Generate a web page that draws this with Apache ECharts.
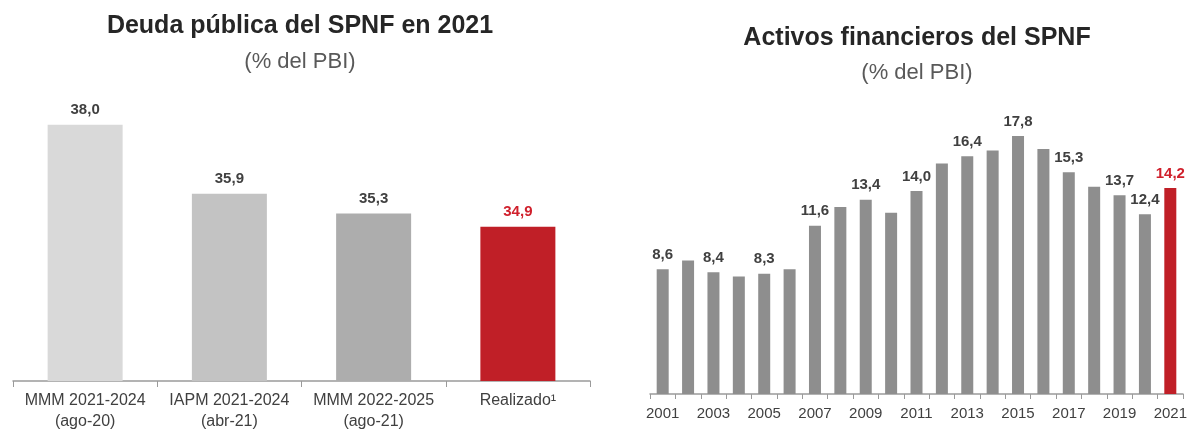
<!DOCTYPE html>
<html>
<head>
<meta charset="utf-8">
<script src="https://cdn.jsdelivr.net/npm/echarts@6/dist/echarts.min.js"></script>
<style>
html,body{margin:0;padding:0;background:#fff;}
#chart{width:1195px;height:432px;}
</style>
</head>
<body>
<div id="chart"></div>
<script>
// deuda publica (izquierda)
var deudaCats = ['MMM 2021-2024\n(ago-20)', 'IAPM 2021-2024\n(abr-21)', 'MMM 2022-2025\n(ago-21)', 'Realizado¹'];
var deudaVals = [38.0, 35.9, 35.3, 34.9];
var deudaColors = ['#d9d9d9', '#c3c3c3', '#adadad', '#c01f27'];

// activos financieros (derecha)
var years = ['2001','2002','2003','2004','2005','2006','2007','2008','2009','2010','2011',
             '2012','2013','2014','2015','2016','2017','2018','2019','2020','2021'];
var activosVals = [8.6, 9.2, 8.4, 8.1, 8.3, 8.6, 11.6, 12.9, 13.4, 12.5, 14.0,
                   15.9, 16.4, 16.8, 17.8, 16.9, 15.3, 14.3, 13.7, 12.4, 14.2];
var labelYears = ['2001','2003','2005','2007','2009','2011','2013','2015','2017','2019','2020','2021'];

function fmt(v){ return v.toFixed(1).replace('.', ','); }

var txtColor = '#404040';
var fontFam = '"Liberation Sans", Arial, sans-serif';

var myChart = echarts.init(document.getElementById('chart'));

var deudaData = deudaVals.map(function(v, i){
	return {
		value: v,
		itemStyle: {color: deudaColors[i]},
		label: {color: i == deudaVals.length - 1 ? '#d0202c' : txtColor}
	};
});

var activosData = activosVals.map(function(v, i){
	var last = i == activosVals.length - 1;
	return {
		value: v,
		itemStyle: {color: last ? '#c01f27' : '#8e8e8e'},
		label: {
			show: labelYears.indexOf(years[i]) >= 0,
			color: last ? '#d0202c' : txtColor
		}
	};
});

var option = {
	animation: false,
	backgroundColor: '#fff',
	textStyle: {fontFamily: fontFam},
	title: [
		{text: 'Deuda pública del SPNF en 2021', left: 300, top: 14, textAlign: 'center', padding: 0,
		 textStyle: {fontSize: 25, fontWeight: 'bold', color: '#262626', fontFamily: fontFam}},
		{text: '(% del PBI)', left: 300, top: 51, textAlign: 'center', padding: 0,
		 textStyle: {fontSize: 22, fontWeight: 'normal', color: '#595959', fontFamily: fontFam}},
		{text: 'Activos financieros del SPNF', left: 917, top: 26, textAlign: 'center', padding: 0,
		 textStyle: {fontSize: 25, fontWeight: 'bold', color: '#262626', fontFamily: fontFam}},
		{text: '(% del PBI)', left: 917, top: 62, textAlign: 'center', padding: 0,
		 textStyle: {fontSize: 22, fontWeight: 'normal', color: '#595959', fontFamily: fontFam}}
	],
	grid: [
		{left: 13, right: 605, top: 92, bottom: 50},
		{left: 650, right: 12, top: 104, bottom: 38}
	],
	xAxis: [
		{
			type: 'category',
			gridIndex: 0,
			data: deudaCats,
			axisLine: {lineStyle: {color: '#9a9a9a', width: 1.5}},
			axisTick: {show: true, length: 6, lineStyle: {color: '#9a9a9a'}},
			axisLabel: {color: txtColor, fontSize: 16, lineHeight: 21, margin: 9, interval: 0}
		},
		{
			type: 'category',
			gridIndex: 1,
			data: years,
			axisLine: {lineStyle: {color: '#9a9a9a', width: 1.5}},
			axisTick: {show: true, length: 5, interval: 0, lineStyle: {color: '#9a9a9a'}},
			axisLabel: {color: txtColor, fontSize: 15, margin: 12, interval: 1}
		}
	],
	yAxis: [
		{type: 'value', gridIndex: 0, min: 30.2, max: 39, show: false, splitLine: {show: false}},
		{type: 'value', gridIndex: 1, min: 0, max: 20, show: false, splitLine: {show: false}}
	],
	series: [
		{
			type: 'bar',
			xAxisIndex: 0,
			yAxisIndex: 0,
			barWidth: 75,
			data: deudaData,
			label: {
				show: true,
				position: 'top',
				distance: 7,
				fontSize: 15,
				fontWeight: 'bold',
				formatter: function(p){ return fmt(p.value); }
			}
		},
		{
			type: 'bar',
			xAxisIndex: 1,
			yAxisIndex: 1,
			barWidth: 12,
			data: activosData,
			label: {
				position: 'top',
				distance: 7,
				fontSize: 15,
				fontWeight: 'bold',
				formatter: function(p){ return fmt(p.value); }
			}
		}
	]
};
myChart.setOption(option);
</script>
</body>
</html>
